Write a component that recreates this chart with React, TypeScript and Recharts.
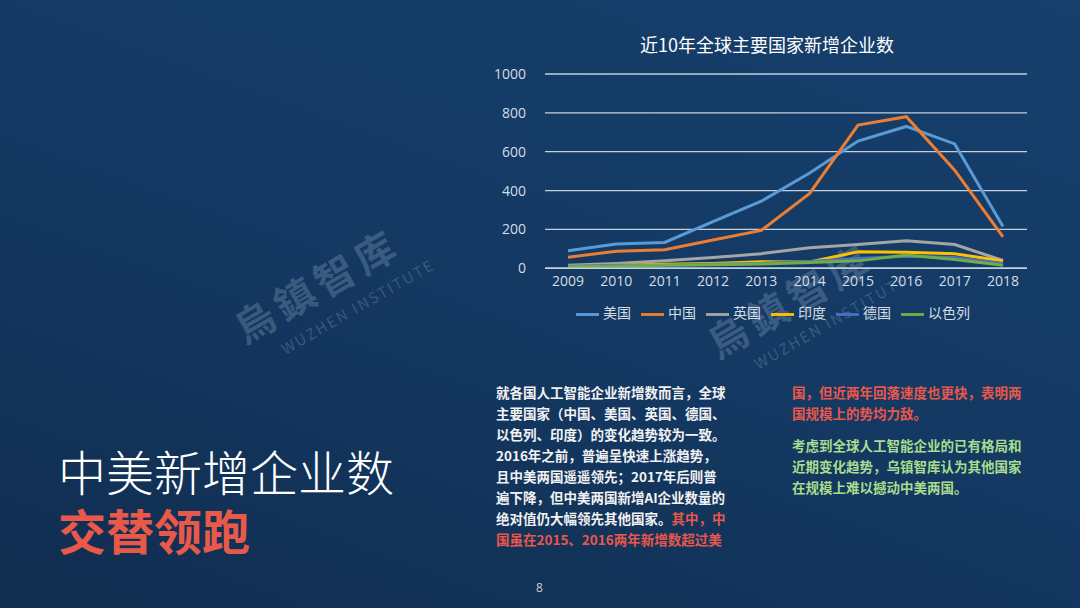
import { Legend, Line, LineChart, CartesianGrid, XAxis, YAxis } from "recharts";

const years = ["2009", "2010", "2011", "2012", "2013", "2014", "2015", "2016", "2017", "2018"];
const usa = [90, 125, 133, 240, 345, 490, 655, 730, 640, 215];
const china = [57, 88, 95, 145, 195, 385, 737, 780, 505, 162];
const uk = [15, 25, 38, 55, 75, 105, 122, 142, 122, 40];
const india = [10, 15, 20, 25, 33, 32, 85, 83, 75, 37];
const germany = [10, 15, 15, 20, 25, 35, 50, 62, 55, 25];
const israel = [8, 12, 15, 18, 22, 30, 38, 68, 45, 15];
const yTicks = [0, 200, 400, 600, 800, 1000];

const series = [
    { key: "美国", values: usa, color: "#5B9BD5" },
    { key: "中国", values: china, color: "#ED7D31" },
    { key: "英国", values: uk, color: "#A5A5A5" },
    { key: "印度", values: india, color: "#FFC000" },
    { key: "德国", values: germany, color: "#4472C4" },
    { key: "以色列", values: israel, color: "#70AD47" },
];

const chartData = years.map((year, i) => {
    const row: Record<string, string | number> = { year };
    series.forEach((s) => (row[s.key] = s.values[i]));
    return row;
});

const leftLines = [
    "就各国人工智能企业新增数而言，全球",
    "主要国家（中国、美国、英国、德国、",
    "以色列、印度）的变化趋势较为一致。",
    "2016年之前，普遍呈快速上涨趋势，",
    "且中美两国遥遥领先；2017年后则普",
    "遍下降，但中美两国新增AI企业数量的",
];
const redLines = ["国，但近两年回落速度也更快，表明两", "国规模上的势均力敌。"];
const greenLines = [
    "考虑到全球人工智能企业的已有格局和",
    "近期变化趋势，乌镇智库认为其他国家",
    "在规模上难以撼动中美两国。",
];

const cjk = "'Noto Sans CJK SC', 'Noto Sans', sans-serif";
const latin = "'Open Sans', 'Noto Sans CJK SC', sans-serif";
const bodyStyle = { position: "absolute" as const, fontFamily: cjk, fontSize: 13.5, fontWeight: 700, whiteSpace: "nowrap" as const, lineHeight: "21px" };

function Watermark({ left, top }: { left: number; top: number }) {
    return (
        <div style={{ position: "absolute", left, top, transform: "rotate(-30deg)", transformOrigin: "left top", color: "rgba(200,215,235,0.22)", fontFamily: cjk, whiteSpace: "nowrap" }}>
            <div style={{ fontSize: 40, fontWeight: 700, letterSpacing: 6 }}>烏鎮智库</div>
            <div style={{ fontSize: 15, letterSpacing: 2, marginLeft: 30 }}>WUZHEN INSTITUTE</div>
        </div>
    );
}

export default function App() {
    return (
        <div style={{ position: "fixed", left: 0, top: 0, width: 1080, height: 608, overflow: "hidden", background: "linear-gradient(200deg, #163f6c 0%, #143a64 45%, #112d50 100%)" }}>
            <Watermark left={222} top={305} />
            <Watermark left={695} top={320} />

            <div style={{ position: "absolute", left: 540, width: 454, top: 31, textAlign: "center", color: "#ffffff", fontFamily: cjk, fontSize: 18 }}>
                近10年全球主要国家新增企业数
            </div>

            <div style={{ position: "absolute", left: 480, top: 60 }}>
                <LineChart width={560} height={270} data={chartData} margin={{ top: 14, right: 13, left: 0, bottom: 8 }}>
                    <CartesianGrid vertical={false} stroke="#c3d0de" strokeWidth={1.3} />
                    <XAxis
                        dataKey="year"
                        padding={{ left: 23, right: 24 }}
                        tickLine={false}
                        axisLine={{ stroke: "#c3d0de", strokeWidth: 1.3 }}
                        tick={{ fill: "#d6dde6", fontSize: 14, fontFamily: latin }}
                        height={30}
                        interval={0}
                    />
                    <YAxis
                        ticks={yTicks}
                        domain={[0, 1000]}
                        width={65}
                        tickLine={false}
                        axisLine={false}
                        tickMargin={13}
                        tick={{ fill: "#d6dde6", fontSize: 14, fontFamily: latin }}
                    />
                    <Legend
                        iconType="plainline"
                        iconSize={23}
                        align="left"
                        itemSorter={(item: any) => series.findIndex((s) => s.key === item.value)}
                        wrapperStyle={{ left: 96, bottom: 4, width: "auto", fontFamily: latin, fontSize: 14 }}
                        formatter={(value) => <span style={{ color: "#d6dde6" }}>{value}</span>}
                    />
                    {series.map((s) => (
                        <Line key={s.key} type="linear" dataKey={s.key} stroke={s.color} strokeWidth={3} dot={false} isAnimationActive={false} />
                    ))}
                </LineChart>
            </div>

            <div style={{ position: "absolute", left: 58, top: 446, color: "#ffffff", fontFamily: cjk, fontSize: 48, fontWeight: 300, lineHeight: "48px", whiteSpace: "nowrap" }}>
                中美新增企业数
            </div>
            <div style={{ position: "absolute", left: 58, top: 505, color: "#e8594a", fontFamily: cjk, fontSize: 48, fontWeight: 700, lineHeight: "48px", whiteSpace: "nowrap" }}>
                交替领跑
            </div>

            <div style={{ ...bodyStyle, left: 496, top: 382, color: "#f2f2f2" }}>
                {leftLines.map((l) => (
                    <div key={l}>{l}</div>
                ))}
                <div>
                    绝对值仍大幅领先其他国家。<span style={{ color: "#e8574b" }}>其中，中</span>
                </div>
                <div style={{ color: "#e8574b" }}>国虽在2015、2016两年新增数超过美</div>
            </div>

            <div style={{ ...bodyStyle, left: 792, top: 382, color: "#e8574b" }}>
                {redLines.map((l) => (
                    <div key={l}>{l}</div>
                ))}
                <div style={{ color: "#a9dc8d", marginTop: 11 }}>
                    {greenLines.map((l) => (
                        <div key={l}>{l}</div>
                    ))}
                </div>
            </div>

            <div style={{ position: "absolute", left: 536, top: 579, color: "#c8d0da", fontFamily: latin, fontSize: 12 }}>8</div>
        </div>
    );
}
